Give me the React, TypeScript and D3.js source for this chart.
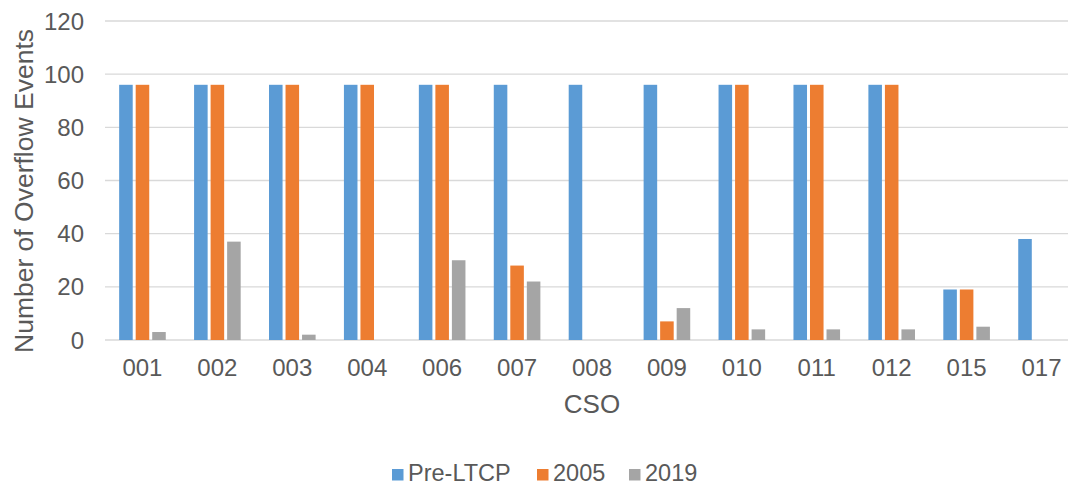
import React from "react";
import * as d3 from "d3";

const categories = ["001", "002", "003", "004", "006", "007", "008", "009", "010", "011", "012", "015", "017"];
const seriesNames = ["Pre-LTCP", "2005", "2019"];
const preLTCP = [96, 96, 96, 96, 96, 96, 96, 96, 96, 96, 96, 19, 38];
const y2005 = [96, 96, 96, 96, 96, 28, 0, 7, 96, 96, 96, 19, 0];
const y2019 = [3, 37, 2, 0, 30, 22, 0, 12, 4, 4, 4, 5, 0];
const yTicks = [0, 20, 40, 60, 80, 100, 120];
const colors = ["#5B9BD5", "#ED7D31", "#A5A5A5"];

const W = 1068;
const H = 484;
const FONT = "'Liberation Sans', Arial, sans-serif";
const TXT = "#595959";

export default function App() {
  const seriesValues = [preLTCP, y2005, y2019];
  const x0 = d3.scaleBand<string>().domain(categories).range([105, 1079]).paddingInner(0.378).paddingOuter(0.189);
  const x1 = d3.scaleBand<string>().domain(seriesNames).range([0, x0.bandwidth()]).paddingInner(0.18);
  const y = d3.scaleLinear().domain([0, 120]).range([340, 21]);

  return (
    <svg width={W} height={H} style={{ position: "absolute", left: 0, top: 0, background: "#fff" }}>
      <rect x={0} y={0} width={W} height={H} fill="#fff" />
      {yTicks.map((t) => (
        <g key={t}>
          <line x1={105} x2={1079} y1={y(t)} y2={y(t)} stroke="#D9D9D9" strokeWidth={1.3} />
          <text x={84} y={y(t)} dy="0.36em" textAnchor="end" fontFamily={FONT} fontSize={24} fill={TXT}>
            {t}
          </text>
        </g>
      ))}
      {categories.map((c, i) => (
        <g key={c} transform={`translate(${x0(c)},0)`}>
          {seriesNames.map((s, j) => {
            const v = seriesValues[j][i];
            if (v <= 0) return null;
            return (
              <rect key={s} x={x1(s)} y={y(v)} width={x1.bandwidth()} height={y(0) - y(v)} fill={colors[j]} />
            );
          })}
          <text x={x0.bandwidth() / 2} y={376} textAnchor="middle" fontFamily={FONT} fontSize={24} fill={TXT}>
            {c}
          </text>
        </g>
      ))}
      <text
        transform={`translate(33,191) rotate(-90)`}
        textAnchor="middle"
        fontFamily={FONT}
        fontSize={26.5}
        fill={TXT}
      >
        Number of Overflow Events
      </text>
      <text x={592} y={413} textAnchor="middle" fontFamily={FONT} fontSize={26} fill={TXT}>
        CSO
      </text>
      {(() => {
        const starts = [392, 537, 629];
        return seriesNames.map((s, j) => (
          <g key={s}>
            <rect x={starts[j]} y={469} width={11.5} height={11.5} fill={colors[j]} />
            <text x={starts[j] + 16} y={480.5} fontFamily={FONT} fontSize={23.5} fill={TXT}>
              {s}
            </text>
          </g>
        ));
      })()}
    </svg>
  );
}
